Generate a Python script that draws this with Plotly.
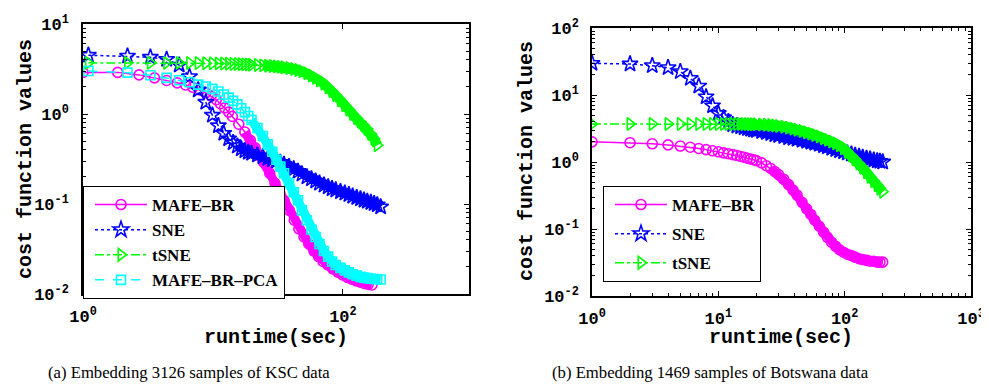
import plotly.graph_objects as go

# ---------------- data: (a) KSC ----------------
t_ksc = [1.1, 2.2, 3.3, 4.4, 5.5, 6.6, 7.7, 8.8, 9.9, 11, 12.1, 13.2, 14.3, 15.4, 16.5, 17.6, 18.7, 19.8,
         22, 24.2, 26.4, 28.6, 30.8, 33, 35.2, 38.5, 41.8, 45.1,
         48.4, 52.8, 57.2, 61.6, 66, 71.5, 77, 82.5, 88, 95.7,
         103.4, 111.1, 118.8, 127.6, 136.4, 145.2, 154, 163.9, 173.8, 183.7, 195]
t_ksc_mafe = [1.0, 1.85, 2.7, 3.55, 4.4, 5.3, 6.15, 7.0, 7.9, 8.8, 9.7, 10.6, 11.4, 12.3, 13.2, 14.1,
              15.8, 17.6, 19.4, 21.1, 22.9, 24.6, 27.3, 30, 32.6, 35.2, 38.7, 42.2, 45.8, 50.2,
              54.6, 59.8, 65, 70.3, 76.5, 83.6, 91.5, 99.4, 108.2, 117, 126.7, 136.4, 146.1, 156.6, 167.2]
ksc_mafe = [2.9, 2.9, 2.72, 2.52, 2.36, 2.22, 2.1, 1.98, 1.85, 1.72, 1.58, 1.44, 1.3, 1.17, 1.05, 0.94,
            0.77, 0.63, 0.51, 0.42, 0.35, 0.29, 0.22, 0.17, 0.135, 0.11, 0.085, 0.066, 0.053, 0.043,
            0.036, 0.03, 0.026, 0.023, 0.021, 0.019, 0.0175, 0.0163, 0.0153, 0.0146, 0.014, 0.0135,
            0.0131, 0.0128, 0.0126]
ksc_sne = [4.5, 4.4, 4.27, 4.05, 3.5, 2.6, 1.85, 1.35, 0.97, 0.74, 0.61, 0.53, 0.48, 0.44, 0.41, 0.39, 0.375, 0.365,
           0.35, 0.335, 0.32, 0.31, 0.3, 0.29, 0.275, 0.26, 0.245, 0.23,
           0.215, 0.2, 0.19, 0.18, 0.17, 0.162, 0.155, 0.148, 0.143, 0.137,
           0.132, 0.127, 0.122, 0.118, 0.114, 0.11, 0.107, 0.104, 0.101, 0.098, 0.093]
ksc_tsne = [3.7, 3.7, 3.7, 3.7, 3.7, 3.69, 3.68, 3.67, 3.66, 3.65, 3.64, 3.62, 3.6, 3.59, 3.58, 3.56, 3.55, 3.53,
            3.5, 3.47, 3.44, 3.41, 3.38, 3.34, 3.3, 3.24, 3.17, 3.08,
            2.98, 2.84, 2.68, 2.52, 2.36, 2.17, 1.98, 1.8, 1.63, 1.42,
            1.25, 1.12, 1.0, 0.9, 0.82, 0.75, 0.68, 0.6, 0.53, 0.45]
ksc_pca = [3.0, 2.88, 2.7, 2.52, 2.37, 2.25, 2.12, 2.02, 1.9, 1.78, 1.65, 1.52, 1.4, 1.28, 1.16, 1.05, 0.95, 0.86,
           0.7, 0.57, 0.46, 0.38, 0.31, 0.26, 0.22, 0.17, 0.135, 0.11,
           0.085, 0.066, 0.052, 0.043, 0.036, 0.03, 0.026, 0.023, 0.021, 0.0195,
           0.0183, 0.0174, 0.0166, 0.016, 0.0155, 0.0152, 0.015, 0.0148, 0.0147, 0.0146, 0.0145]

# ---------------- data: (b) Botswana ----------------
t_bot = [1, 2, 3, 4, 5, 6, 7, 8, 9, 10, 11, 12, 13, 14, 15, 16, 17, 18, 19, 20,
         22, 24, 26, 28, 30, 33, 36, 39, 42, 46, 50, 54, 58, 63, 68, 73, 79, 85, 91, 98,
         105, 113, 121, 130, 139, 149, 159, 170, 181, 190, 200]
bot_mafe = [2.0, 1.94, 1.87, 1.8, 1.73, 1.66, 1.59, 1.53, 1.47, 1.42, 1.37, 1.33, 1.29, 1.25, 1.21, 1.18, 1.14, 1.11, 1.08, 1.05,
            0.97, 0.88, 0.8, 0.72, 0.65, 0.55, 0.46, 0.38, 0.32, 0.25, 0.2, 0.165, 0.135, 0.11, 0.09, 0.075, 0.063, 0.055, 0.049, 0.045,
            0.042, 0.04, 0.038, 0.036, 0.035, 0.034, 0.033, 0.033, 0.032, 0.032, 0.032]
bot_sne = [29.7, 29, 27.4, 25.6, 22.3, 17.7, 13.6, 9.4, 6.9, 5.3, 4.6, 4.0, 3.6, 3.45, 3.35, 3.25, 3.15, 3.08, 3.0, 2.95,
           2.85, 2.75, 2.65, 2.55, 2.48, 2.4, 2.3, 2.25, 2.18, 2.1, 2.03, 1.97, 1.9, 1.83, 1.75, 1.68, 1.6, 1.53, 1.47, 1.42,
           1.36, 1.31, 1.26, 1.21, 1.17, 1.13, 1.1, 1.07, 1.04, 1.02, 1.0]
bot_tsne = [3.7, 3.7, 3.7, 3.7, 3.7, 3.7, 3.7, 3.7, 3.7, 3.7, 3.7, 3.7, 3.7, 3.69, 3.69, 3.68, 3.68, 3.67, 3.66, 3.65,
            3.63, 3.6, 3.56, 3.5, 3.45, 3.36, 3.26, 3.15, 3.04, 2.9, 2.77, 2.65, 2.53, 2.4, 2.27, 2.15, 2.02, 1.9, 1.77, 1.6,
            1.42, 1.25, 1.1, 0.95, 0.82, 0.7, 0.6, 0.52, 0.45, 0.4, 0.36]

names_a = ["MAFE–BR", "SNE", "tSNE", "MAFE–BR–PCA"]
names_b = ["MAFE–BR", "SNE", "tSNE"]
ytick_a = [0.01, 0.1, 1, 10]
ytick_a_txt = ["10<sup>-2</sup>", "10<sup>-1</sup>", "10<sup>0</sup>", "10<sup>1</sup>"]
ytick_b = [0.01, 0.1, 1, 10, 100]
ytick_b_txt = ["10<sup>-2</sup>", "10<sup>-1</sup>", "10<sup>0</sup>", "10<sup>1</sup>", "10<sup>2</sup>"]
xtick_a = [1, 100]
xtick_a_txt = ["10<sup>0</sup>", "10<sup>2</sup>"]
xtick_b = [1, 10, 100, 1000]
xtick_b_txt = ["10<sup>0</sup>", "10<sup>1</sup>", "10<sup>2</sup>", "10<sup>3</sup>"]
caption_a = "(a) Embedding 3126 samples of KSC data"
caption_b = "(b) Embedding 1469 samples of Botswana data"

MAG, BLUE, GREEN, CYAN = "#FF00FF", "#0000FF", "#00FF00", "#00FFFF"

styles = {
    "MAFE–BR": dict(color=MAG, dash="solid", symbol="circle-open", size=10, band=9),
    "SNE": dict(color=BLUE, dash="dot", symbol="star-open", size=12, band=9),
    "tSNE": dict(color=GREEN, dash="dashdot", symbol="triangle-right-open", size=11, band=10),
    "MAFE–BR–PCA": dict(color=CYAN, dash="dash", symbol="square-open", size=9, band=9),
}

fig = go.Figure()

def add(x, y, name, xa, ya, leg, grp, dense_from):
    s = styles[name]
    x = x[:len(y)]
    # where the markers crowd together they merge into a solid band
    i0 = next(i for i, v in enumerate(x) if v >= dense_from)
    fig.add_trace(go.Scatter(
        x=x[i0:], y=y[i0:], mode="lines", showlegend=False, hoverinfo="skip",
        line=dict(color=s["color"], width=s["band"]), xaxis=xa, yaxis=ya))
    fig.add_trace(go.Scatter(
        x=x, y=y, name=name, mode="lines+markers",
        line=dict(color=s["color"], width=1.5, dash=s["dash"]),
        marker=dict(symbol=s["symbol"], size=s["size"], color=s["color"],
                    line=dict(width=1.6, color=s["color"])),
        xaxis=xa, yaxis=ya, legend=leg, legendgroup=grp))

add(t_ksc_mafe, ksc_mafe, names_a[0], "x", "y", "legend", "a1", 17)
add(t_ksc, ksc_sne, names_a[1], "x", "y", "legend", "a2", 15)
add(t_ksc, ksc_tsne, names_a[2], "x", "y", "legend", "a3", 24)
add(t_ksc, ksc_pca, names_a[3], "x", "y", "legend", "a4", 19)
add(t_bot, bot_mafe, names_b[0], "x2", "y2", "legend2", "b1", 26)
add(t_bot, bot_sne, names_b[1], "x2", "y2", "legend2", "b2", 12)
add(t_bot, bot_tsne, names_b[2], "x2", "y2", "legend2", "b3", 14)

# the page body adds an 8 px offset; positions below are given in window pixels
OFF = 8
W, H = 989 - OFF, 390 - OFF
def px(x):
    return (x - OFF) / W
def py(y):
    return 1 - (y - OFF) / H

tickfont = dict(family="Liberation Mono", size=17, color="black", weight="bold")
minor_y_a = [m * 10 ** e for e in range(-2, 1) for m in range(2, 10)]
minor_y_b = [m * 10 ** e for e in range(-2, 2) for m in range(2, 10)]
minor_x_b = [m * 10 ** e for e in range(0, 3) for m in range(2, 10)]

common = dict(type="log", showline=True, linecolor="black", linewidth=1.5, mirror="ticks",
              ticks="inside", ticklen=5, tickwidth=1, tickcolor="black", showgrid=False,
              zeroline=False, tickfont=tickfont, automargin=False)
minor_style = dict(ticks="inside", ticklen=3, tickcolor="black", tickmode="array", showgrid=False)
legend_font = dict(family="Liberation Serif", size=17, color="black", weight="bold")

fig.update_layout(
    width=W, height=H, margin=dict(l=0, r=0, t=0, b=0, autoexpand=False),
    paper_bgcolor="white", plot_bgcolor="white",
    xaxis=dict(common, domain=[px(83), px(469)], range=[0, 2.97], anchor="y",
               tickmode="array", tickvals=xtick_a, ticktext=xtick_a_txt, ticklabelstandoff=6),
    yaxis=dict(common, domain=[py(294), py(24)], range=[-2, 1], anchor="x",
               tickmode="array", tickvals=ytick_a, ticktext=ytick_a_txt, ticklabelstandoff=9,
               minor=dict(minor_style, tickvals=minor_y_a)),
    xaxis2=dict(common, domain=[px(592), px(971)], range=[0, 3], anchor="y2",
                tickmode="array", tickvals=xtick_b, ticktext=xtick_b_txt, ticklabelstandoff=6,
                minor=dict(minor_style, tickvals=minor_x_b)),
    yaxis2=dict(common, domain=[py(296), py(28)], range=[-2, 2], anchor="x2",
                tickmode="array", tickvals=ytick_b, ticktext=ytick_b_txt, ticklabelstandoff=8,
                minor=dict(minor_style, tickvals=minor_y_b)),
    legend=dict(x=px(83), y=py(186), xanchor="left", yanchor="top",
                bgcolor="white", bordercolor="black", borderwidth=1, itemwidth=52, indentation=6,
                font=legend_font, tracegroupgap=0),
    legend2=dict(x=px(603), y=py(186), xanchor="left", yanchor="top",
                 bgcolor="white", bordercolor="black", borderwidth=1, itemwidth=52, indentation=6,
                 font=legend_font, tracegroupgap=4),
    showlegend=True,
)

title_font = dict(family="Liberation Mono", size=20, color="black", weight="bold")
ann = [
    dict(text="cost function values", x=px(25), y=py(159), textangle=-90, font=title_font),
    dict(text="runtime(sec)", x=px(276), y=py(337), font=title_font),
    dict(text="cost function values", x=px(526), y=py(161), textangle=-90, font=title_font),
    dict(text="runtime(sec)", x=px(781), y=py(337), font=title_font),
    dict(text=caption_a, x=px(189), y=py(372),
         font=dict(family="Liberation Serif", size=16.7, color="black")),
    dict(text=caption_b, x=px(710), y=py(372),
         font=dict(family="Liberation Serif", size=16.7, color="black")),
]
for a in ann:
    a.update(xref="paper", yref="paper", showarrow=False, xanchor="center", yanchor="middle")
fig.update_layout(annotations=ann)

fig.write_html("out.html")
